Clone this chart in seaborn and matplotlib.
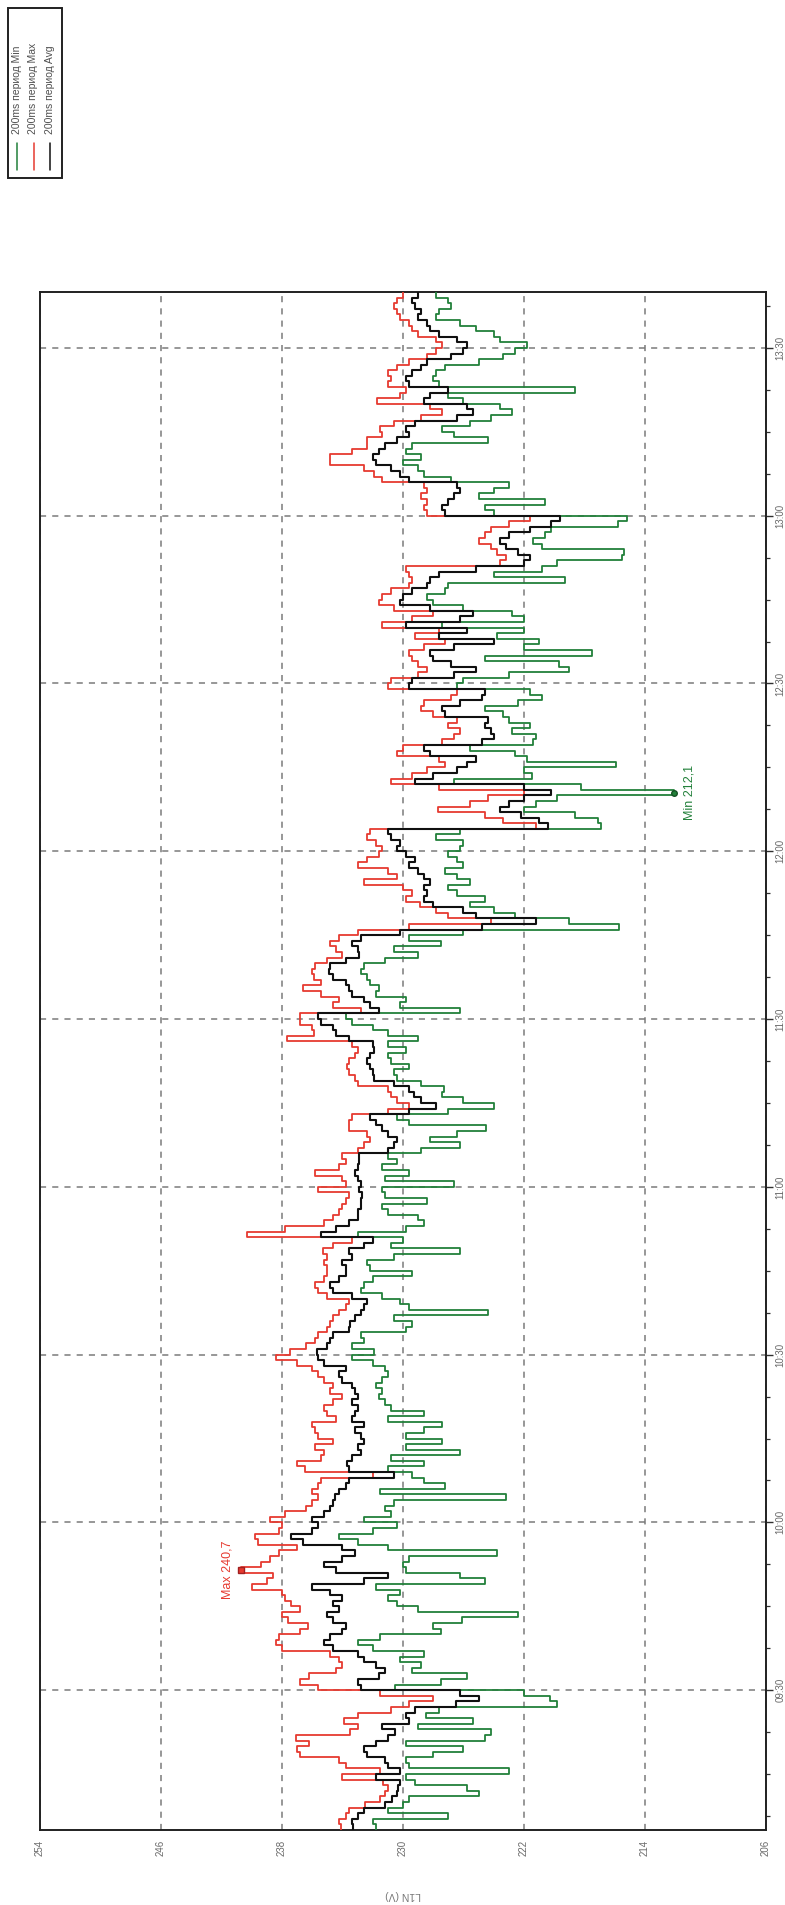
import numpy as np
import pandas as pd
import matplotlib
matplotlib.use("Agg")
import matplotlib.pyplot as plt
from matplotlib.lines import Line2D
from matplotlib.patches import Rectangle
from matplotlib.ticker import FixedLocator, MultipleLocator
import seaborn as sns

# ---- data: one value per minute, starting 09:05 ----
START_MIN = 9 * 60 + 5      # 09:05
END_MIN = 13 * 60 + 40      # 13:40

v_avg = [
    233.3, 233.4, 233.0, 232.6, 231.2, 230.7, 230.4, 230.3, 230.2, 231.8,  # 09:05
    230.2, 231.0, 231.2, 232.4, 232.6, 231.8, 231.0, 230.5, 231.4, 229.6,  # 09:15
    229.8, 229.2, 226.5, 225.0, 226.2, 232.8, 233.0, 231.6, 231.2, 231.8,  # 09:25
    232.6, 233.0, 234.6, 235.2, 234.8, 234.0, 233.8, 234.6, 235.0, 234.2,  # 09:35
    234.6, 234.0, 234.8, 236.0, 232.6, 231.0, 234.4, 235.2, 234.0, 233.2,  # 09:45
    234.0, 236.6, 237.4, 236.0, 235.6, 236.0, 235.2, 234.8, 234.6, 234.5,  # 09:55
    234.2, 233.8, 233.6, 230.6, 233.6, 233.7, 233.4, 232.8, 233.0, 232.6,  # 10:05
    232.8, 233.2, 232.6, 233.4, 233.2, 233.0, 233.4, 233.0, 233.2, 233.4,  # 10:15
    234.0, 234.2, 233.8, 235.2, 235.6, 235.7, 235.0, 234.8, 234.6, 233.6,  # 10:25
    233.5, 233.2, 232.8, 232.6, 232.4, 233.4, 234.6, 234.8, 234.2, 233.8,  # 10:35
    233.8, 234.0, 233.4, 233.6, 232.6, 232.0, 235.4, 234.4, 233.6, 233.0,  # 10:45
    233.0, 232.8, 232.8, 232.7, 232.9, 232.8, 233.0, 233.2, 233.0, 232.9,  # 10:55
    232.9, 231.0, 230.6, 230.4, 231.0, 231.4, 231.8, 232.2, 229.6, 227.8,  # 11:05
    228.8, 229.3, 229.6, 230.6, 231.9, 232.0, 232.2, 232.4, 232.2, 231.9,  # 11:15
    232.0, 233.6, 234.4, 234.6, 235.4, 235.6, 231.6, 232.2, 232.6, 233.4,  # 11:25
    233.6, 233.8, 234.6, 234.9, 234.8, 233.8, 232.9, 233.0, 233.4, 232.8,  # 11:35
    230.2, 224.8, 221.2, 225.2, 226.0, 228.0, 228.6, 228.4, 228.6, 228.2,  # 11:45
    228.6, 229.0, 229.6, 229.2, 229.8, 230.4, 230.2, 230.8, 231.0, 220.4,  # 11:55
    221.0, 222.2, 223.6, 223.0, 222.0, 220.2, 222.0, 229.2, 228.0, 226.4,  # 12:05
    225.8, 225.2, 228.2, 228.6, 224.8, 224.0, 224.2, 224.6, 224.4, 227.2,  # 12:15
    227.4, 226.2, 224.8, 224.6, 229.6, 229.4, 226.6, 225.2, 226.8, 228.0,  # 12:25
    228.2, 226.6, 224.0, 227.6, 225.8, 229.8, 226.2, 225.4, 228.2, 230.2,  # 12:35
    230.0, 229.4, 228.4, 228.2, 227.6, 225.2, 222.0, 221.6, 222.4, 223.2,  # 12:45
    223.6, 223.0, 221.6, 220.2, 219.6, 227.2, 227.4, 227.0, 226.6, 226.2,  # 12:55
    226.4, 229.6, 230.2, 230.8, 231.8, 232.0, 231.6, 231.2, 230.4, 229.6,  # 13:05
    229.8, 229.2, 226.4, 225.4, 225.8, 228.6, 228.2, 227.0, 229.6, 229.8,  # 13:15
    229.4, 228.8, 228.4, 226.8, 226.0, 225.8, 226.4, 227.6, 228.2, 228.4,  # 13:25
    229.0, 228.8, 229.2, 229.4, 229.0,                                      # 13:35
]

v_min = [
    231.8, 232.0, 227.0, 231.0, 230.0, 229.6, 225.0, 225.8, 229.2, 229.8,
    223.0, 229.6, 229.8, 228.0, 226.0, 229.8, 224.6, 224.2, 229.0, 225.4,
    228.5, 227.6, 219.8, 220.3, 222.0, 230.5, 227.5, 225.8, 229.4, 228.8,
    230.2, 228.6, 232.0, 233.0, 231.5, 227.5, 228.0, 226.1, 222.4, 229.0,
    230.4, 231.0, 230.2, 231.8, 224.6, 226.2, 229.8, 230.0, 229.6, 223.8,
    231.0, 233.0, 234.2, 232.0, 230.4, 232.6, 230.8, 231.2, 230.6, 223.2,
    231.5, 227.2, 228.6, 229.4, 231.0, 228.6, 230.8, 226.2, 229.8, 227.4,
    229.8, 228.6, 227.4, 231.0, 228.6, 230.8, 231.2, 231.6, 231.4, 231.8,
    231.4, 231.0, 231.2, 232.0, 233.4, 231.9, 233.4, 232.6, 232.8, 229.8,
    229.4, 230.6, 224.4, 229.6, 230.2, 231.4, 232.8, 232.6, 232.0, 229.4,
    232.2, 232.4, 230.6, 226.2, 230.8, 230.0, 233.0, 229.8, 228.6, 229.0,
    231.0, 231.4, 228.4, 231.2, 231.4, 226.6, 231.2, 229.6, 231.4, 230.4,
    231.0, 228.8, 226.2, 228.2, 226.4, 224.5, 229.6, 230.4, 227.0, 224.0,
    226.0, 227.4, 227.3, 228.8, 230.4, 230.6, 229.6, 230.8, 231.0, 229.8,
    231.0, 229.0, 231.0, 232.0, 233.4, 233.8, 226.2, 230.2, 229.8, 231.8,
    231.6, 232.2, 232.4, 232.8, 232.6, 231.2, 229.0, 230.6, 227.5, 229.6,
    226.0, 215.7, 219.0, 222.6, 224.0, 225.6, 224.6, 226.4, 227.0, 225.6,
    226.4, 227.2, 226.0, 226.4, 227.0, 226.2, 226.0, 227.8, 226.2, 216.9,
    217.1, 218.6, 222.0, 221.2, 219.8, 212.1, 218.2, 226.6, 221.5, 222.0,
    215.9, 221.8, 222.6, 225.6, 221.4, 221.2, 222.8, 221.6, 223.0, 223.4,
    224.6, 222.4, 220.8, 221.6, 226.4, 226.0, 223.0, 219.0, 219.7, 224.6,
    217.5, 222.0, 221.0, 223.8, 222.0, 227.4, 222.0, 222.8, 226.0, 228.0,
    228.4, 227.2, 227.0, 219.3, 224.0, 220.8, 219.8, 215.5, 215.4, 220.8,
    221.4, 220.6, 220.2, 215.8, 215.2, 224.0, 224.6, 220.6, 225.0, 224.0,
    223.0, 226.8, 228.6, 229.0, 230.0, 228.8, 229.8, 229.4, 224.4, 226.6,
    227.4, 225.6, 224.2, 222.8, 223.6, 226.0, 227.0, 218.6, 227.6, 228.0,
    227.8, 227.2, 225.0, 223.4, 222.6, 221.8, 223.6, 224.0, 225.2, 226.2,
    227.8, 227.6, 226.8, 227.0, 227.8,
]

v_max = [
    234.1, 234.2, 233.8, 233.6, 232.5, 231.5, 231.2, 231.0, 231.3, 234.0,
    231.5, 233.8, 234.2, 236.8, 237.0, 236.2, 237.1, 233.5, 233.0, 233.9,
    233.0, 230.8, 229.6, 228.0, 231.5, 235.6, 236.8, 236.2, 234.4, 234.0,
    234.2, 234.8, 238.0, 238.4, 238.2, 236.8, 236.3, 237.6, 238.0, 236.8,
    237.4, 237.8, 238.0, 240.0, 239.0, 238.6, 240.7, 239.4, 238.8, 238.2,
    237.0, 239.6, 239.8, 238.2, 238.0, 238.8, 237.8, 236.4, 236.0, 235.6,
    236.0, 235.6, 235.4, 232.0, 236.5, 237.0, 235.4, 235.2, 235.8, 234.6,
    235.6, 235.8, 236.0, 234.4, 235.0, 235.2, 234.6, 234.0, 234.8, 234.6,
    235.2, 235.6, 236.0, 237.0, 238.4, 237.5, 236.4, 235.8, 235.6, 235.0,
    234.8, 234.6, 234.2, 233.8, 233.6, 235.0, 235.6, 235.8, 235.2, 235.0,
    235.0, 235.2, 235.0, 235.3, 234.6, 233.4, 240.3, 237.8, 235.2, 234.6,
    234.2, 234.0, 233.8, 233.6, 235.6, 233.8, 234.0, 235.8, 234.2, 233.8,
    234.0, 233.0, 232.6, 232.2, 232.4, 233.6, 233.6, 233.4, 231.0, 229.6,
    230.4, 230.8, 231.0, 233.0, 233.2, 233.6, 233.7, 233.6, 233.2, 233.0,
    233.4, 237.7, 235.9, 236.0, 236.8, 236.8, 232.8, 234.6, 234.2, 235.4,
    236.6, 235.4, 235.9, 236.0, 235.8, 235.0, 234.0, 234.4, 234.8, 234.2,
    233.0, 229.6, 224.2, 227.0, 227.8, 228.9, 229.8, 229.4, 230.0, 232.6,
    230.4, 231.0, 233.0, 232.4, 231.6, 231.4, 231.8, 232.4, 232.2, 221.2,
    223.4, 224.6, 227.7, 225.6, 224.4, 222.0, 227.6, 230.8, 229.4, 228.4,
    227.2, 227.6, 230.4, 230.0, 227.4, 226.6, 226.2, 227.0, 226.4, 228.0,
    228.8, 228.6, 226.8, 226.4, 231.0, 230.8, 229.0, 228.4, 229.0, 229.4,
    229.6, 228.6, 227.2, 229.2, 227.6, 231.4, 229.4, 228.0, 230.6, 231.6,
    231.4, 230.8, 229.6, 229.4, 229.6, 229.8, 223.6, 223.2, 223.8, 224.2,
    225.0, 224.6, 224.2, 223.0, 221.6, 228.4, 228.6, 228.4, 228.8, 228.4,
    228.6, 231.4, 231.9, 232.6, 234.8, 234.8, 233.4, 232.4, 232.4, 231.4,
    231.5, 230.6, 228.8, 227.4, 228.2, 231.7, 230.2, 229.8, 231.0, 230.8,
    231.0, 230.4, 229.6, 228.4, 227.8, 227.4, 227.8, 229.0, 229.4, 229.6,
    230.2, 230.4, 230.6, 230.4, 230.0,
]

volt_ticks = [254, 246, 238, 230, 222, 214, 206]
time_tick_minutes = [570, 600, 630, 660, 690, 720, 750, 780, 810]
time_tick_labels = ["09:30", "10:00", "10:30", "11:00", "11:30",
                    "12:00", "12:30", "13:00", "13:30"]
series_names = ["200ms период Min", "200ms период Max", "200ms период Avg"]
series_colors = ["#22803a", "#e63a30", "#101010"]
series_widths = [1.3, 1.3, 1.5]
axis_label = "L1N (V)"

# ---- style ----
sns.set_theme(style="white")
plt.rcParams["font.family"] = ["Liberation Sans", "DejaVu Sans"]

W, H = 785, 1905
fig = plt.figure(figsize=(W / 100, H / 100), dpi=100)
fig.patch.set_facecolor("white")

# plot area (the chart is laid out turned a quarter turn: time runs upward)
left, right, top, bottom = 40, 766, 292, 1830
ax = fig.add_axes([left / W, (H - bottom) / H, (right - left) / W, (bottom - top) / H])
ax.set_facecolor("white")

n = len(v_avg)
t = START_MIN + np.arange(n + 1)
series_values = [v_min, v_max, v_avg]
for name, vals, color, lw in zip(series_names, series_values, series_colors, series_widths):
    df = pd.DataFrame({"t": t, "v": list(vals) + [vals[-1]]})
    sns.lineplot(data=df, x="v", y="t", orient="y", estimator=None, sort=True,
                 drawstyle="steps-pre", color=color, lw=lw, ax=ax, legend=False,
                 zorder=3)

# axes limits and ticks
ax.set_xlim(volt_ticks[0], volt_ticks[-1])
ax.set_ylim(START_MIN, END_MIN)
ax.xaxis.set_major_locator(FixedLocator(volt_ticks))
ax.xaxis.set_minor_locator(MultipleLocator(2))
ax.set_xticklabels([str(v) for v in volt_ticks], rotation=90)
ax.yaxis.set_major_locator(FixedLocator(time_tick_minutes))
ax.yaxis.set_minor_locator(MultipleLocator(7.5))
ax.set_yticklabels(time_tick_labels, rotation=90, va="center")
ax.yaxis.tick_right()

tick_color = "#6a6a6a"
ax.tick_params(axis="both", which="major", direction="out", length=5, width=1.0,
               color="#303030", labelsize=7, labelcolor=tick_color, pad=2)
ax.tick_params(axis="both", which="minor", direction="out", length=3, width=0.9,
               color="#303030")
ax.tick_params(axis="y", which="both", left=False, right=True,
               labelleft=False, labelright=True)

ax.set_xlabel(axis_label, rotation=180, color="#777777", fontsize=7.5,
              va="center", ha="center")
ax.xaxis.set_label_coords(0.5, -(1895 - bottom) / (bottom - top))
ax.set_ylabel("")

# dashed grid
ax.grid(True, which="major", axis="both", color="#7a7a7a", lw=1.1,
        linestyle=(0, (4, 4)), zorder=1)
ax.set_axisbelow(True)
for sp in ax.spines.values():
    sp.set_visible(True)
    sp.set_color("#202020")
    sp.set_linewidth(1.4)

# extreme value markers
imax = int(np.argmax(v_max))
imin = int(np.argmin(v_min))
t_max = START_MIN + imax + 0.5
t_min = START_MIN + imin + 0.5
ax.plot([v_max[imax]], [t_max], marker="s", ms=4, color=series_colors[1],
        mec="#a02020", zorder=5)
ax.plot([v_min[imin]], [t_min], marker="o", ms=4, color=series_colors[0],
        mec="#145022", zorder=5)
ax.annotate(f"Max {v_max[imax]:.1f}".replace(".", ","), xy=(v_max[imax], t_max),
            xytext=(-14, 0), textcoords="offset pixels", rotation=90,
            ha="center", va="center", color=series_colors[1], fontsize=9)
ax.annotate(f"Min {v_min[imin]:.1f}".replace(".", ","), xy=(v_min[imin], t_min),
            xytext=(16, 0), textcoords="offset pixels", rotation=90,
            ha="center", va="center", color=series_colors[0], fontsize=9)

# legend box (top-left), entries laid out in columns
def fx(px):
    return px / W

def fy(py):
    return 1 - py / H

fig.add_artist(Rectangle((fx(8), fy(178)), fx(62) - fx(8), fy(8) - fy(178),
                         transform=fig.transFigure, fill=False,
                         edgecolor="#202020", lw=1.4))
for i, (name, color) in enumerate(zip(series_names, series_colors)):
    cx = 17 + i * 16.5
    fig.add_artist(Line2D([fx(cx), fx(cx)], [fy(170), fy(143)],
                          transform=fig.transFigure, color=color, lw=1.1))
    fig.text(fx(cx), fy(134), name, rotation=90, ha="center", va="bottom",
             fontsize=7.5, color="#505050")

fig.savefig("out.png", dpi=100, facecolor="white")
